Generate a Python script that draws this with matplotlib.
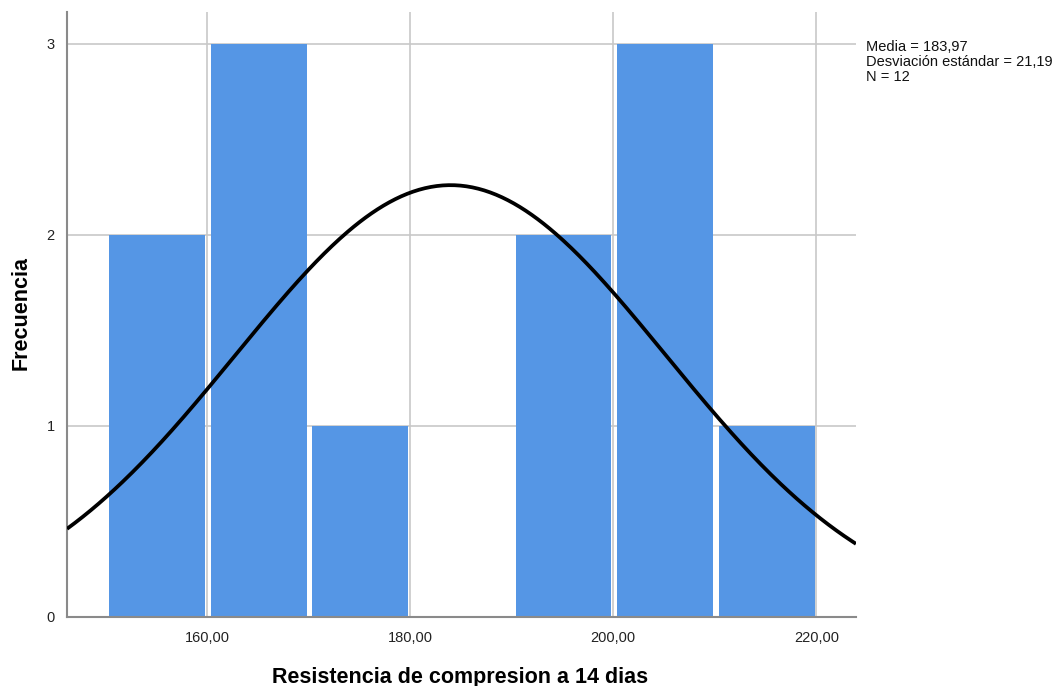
import numpy as np
import matplotlib as mpl

mpl.use('agg')

import matplotlib.pyplot as plt

plt.rcParams['font.family'] = ['Liberation Sans', 'DejaVu Sans']

# histogram of compression strength at 14 days
bin_edges = [150, 160, 170, 180, 190, 200, 210, 220]
counts = [2, 3, 1, 0, 2, 3, 1]
mean = 183.97
std_dev = 21.19
n_obs = 12
x_ticks = [160, 180, 200, 220]
y_ticks = [0, 1, 2, 3]


def comma(v):
    return ('%.2f' % v).replace('.', ',')


def main():
    fig = plt.figure(figsize=(10.64, 6.86), dpi=100)
    ax = fig.add_axes([0.063, 0.1006, 0.7415, 0.8819])

    # bars sit a little inside their bins so the grid shows in the gaps
    inset = 0.37
    lefts = np.array(bin_edges[:-1]) + inset
    widths = np.diff(bin_edges) - 0.55
    ax.bar(lefts, counts, width=widths, align='edge', color='#5596E5',
           linewidth=0, zorder=2)

    # normal curve scaled to counts per bin
    xs = np.linspace(146.2, 223.9, 400)
    bw = bin_edges[1] - bin_edges[0]
    ys = n_obs * bw / (std_dev * np.sqrt(2 * np.pi)) * np.exp(-0.5 * ((xs - mean) / std_dev) ** 2)
    ax.plot(xs, ys, color='black', linewidth=2.7, zorder=3, solid_capstyle='butt')

    ax.set_xlim(146.2, 223.9)
    ax.set_ylim(0, 3.165)
    ax.set_xticks(x_ticks)
    ax.set_xticklabels([comma(t) for t in x_ticks])
    ax.set_yticks(y_ticks)
    ax.tick_params(length=0, labelsize=10.5, colors='#222222')
    ax.tick_params(axis='x', pad=10)
    ax.tick_params(axis='y', pad=9)

    ax.grid(True, color='#C8C8C8', linewidth=1.2, zorder=0)
    ax.set_axisbelow(True)
    for side in ['top', 'right']:
        ax.spines[side].set_visible(False)
    for side in ['left', 'bottom']:
        ax.spines[side].set_color('#8A8A8A')
        ax.spines[side].set_linewidth(1.5)

    fig.text(0.4323, 0.0045, 'Resistencia de compresion a 14 dias', fontsize=15.5,
             fontweight='bold', ha='center', va='baseline')
    fig.text(0.0195, 0.544, 'Frecuencia', fontsize=15.5, fontweight='bold',
             rotation=90, ha='center', va='center')

    stats = 'Media = %s\nDesviación estándar = %s\nN = %d' % (
        comma(mean), comma(std_dev), n_obs)
    fig.text(0.8135, 0.941, stats, fontsize=10.5, va='top', ha='left',
             linespacing=1.08, color='#111111')

    fig.savefig('out.png', dpi=100)


if __name__ == '__main__':
    main()
